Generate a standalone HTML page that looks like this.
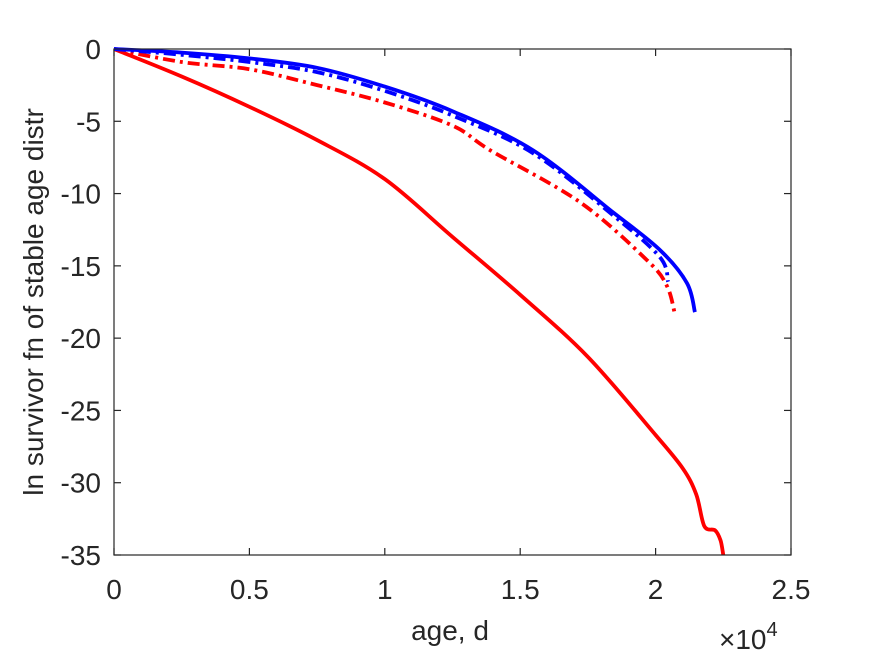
<!DOCTYPE html>
<html><head><meta charset="utf-8"><style>
body{margin:0;background:#fff;}
svg{display:block;font-family:"Liberation Sans",Arial,sans-serif;}
</style></head><body>
<svg id="chart" width="875" height="656" viewBox="0 0 875 656">
<rect width="875" height="656" fill="#fff"/>
<g id="ticks"></g>
<g id="series"></g>
<rect x="114" y="49" width="677" height="506" fill="none" stroke="#262626" stroke-width="1.2"/>
<text x="450" y="640" font-size="28" fill="#262626" text-anchor="middle">age, d</text>
<text transform="translate(43,302) rotate(-90)" font-size="28" fill="#262626" text-anchor="middle">ln survivor fn of stable age distr</text>
<text x="719" y="649" font-size="28" fill="#262626">×10<tspan dy="-13" font-size="20">4</tspan></text>
</svg>
<script>
const xTicks=[0,0.5,1,1.5,2,2.5];
const xTickLabels=["0","0.5","1","1.5","2","2.5"];
const yTicks=[0,-5,-10,-15,-20,-25,-30,-35];
const yTickLabels=["0","-5","-10","-15","-20","-25","-30","-35"];
const redSolidX=[0,0.25,0.5,0.75,1,1.25,1.5,1.75,2,2.1,2.15,2.18,2.22,2.24,2.25];
const redSolidY=[0,-1.9,-4.0,-6.3,-9.0,-13.0,-17.0,-21.3,-26.7,-29.0,-30.8,-33,-33.3,-34,-35];
const blueSolidX=[0,0.25,0.5,0.75,1,1.25,1.547,1.843,2.016,2.116,2.145];
const blueSolidY=[0,-0.25,-0.65,-1.3,-2.6,-4.3,-7.0,-11.3,-13.9,-16.2,-18.2];
const blueDashX=[0,0.25,0.5,0.75,1,1.25,1.547,1.843,2.016,2.046];
const blueDashY=[0,-0.4,-0.9,-1.6,-2.9,-4.6,-7.2,-11.5,-14.4,-16.1];
const redDashX=[0,0.25,0.5,0.75,1,1.25,1.389,1.721,1.968,2.042,2.072];
const redDashY=[0,-0.9,-1.4,-2.5,-3.7,-5.3,-7.0,-10.6,-14.6,-16.4,-18.4];
const X0=114,X1=791,Y0=49,Y1=555;
const sx=v=>X0+(v-0)/(2.5)*(X1-X0);
const sy=v=>Y0+(0-v)/35*(Y1-Y0);
const NS="http://www.w3.org/2000/svg";
const tg=document.getElementById('ticks');
function mk(tag,attrs,parent){const e=document.createElementNS(NS,tag);for(const k in attrs)e.setAttribute(k,attrs[k]);parent.appendChild(e);return e;}
xTicks.forEach((t,i)=>{
 const x=sx(t);
 const a=mk('line',{x1:x,x2:x,y1:Y1,y2:Y1-7,stroke:'#262626','stroke-width':1.2},tg);
 
 
 const b=mk('line',{x1:x,x2:x,y1:Y0,y2:Y0+7,stroke:'#262626','stroke-width':1.2},tg);
 
 
 const l=mk('text',{x:x,y:599,'font-size':28,fill:'#262626','text-anchor':'middle'},tg);
 l.textContent=xTickLabels[i];
 
 
});
yTicks.forEach((t,i)=>{
 const y=sy(t);
 const a=mk('line',{x1:X0,x2:X0+7,y1:y,y2:y,stroke:'#262626','stroke-width':1.2},tg);
 
 
 const b=mk('line',{x1:X1,x2:X1-7,y1:y,y2:y,stroke:'#262626','stroke-width':1.2},tg);
 
 
 const l=mk('text',{x:101,y:y+10,'font-size':28,fill:'#262626','text-anchor':'end'},tg);
 l.textContent=yTickLabels[i];
 
 
});
const sg=document.getElementById('series');
function smoothPath(pts){
 let d='M'+pts[0][0].toFixed(1)+' '+pts[0][1].toFixed(1);
 for(let i=0;i<pts.length-1;i++){
  const p0=pts[Math.max(0,i-1)],p1=pts[i],p2=pts[i+1],p3=pts[Math.min(pts.length-1,i+2)];
  const c1=[p1[0]+(p2[0]-p0[0])/6,p1[1]+(p2[1]-p0[1])/6];
  const c2=[p2[0]-(p3[0]-p1[0])/6,p2[1]-(p3[1]-p1[1])/6];
  d+=' C'+c1[0].toFixed(1)+' '+c1[1].toFixed(1)+' '+c2[0].toFixed(1)+' '+c2[1].toFixed(1)+' '+p2[0].toFixed(1)+' '+p2[1].toFixed(1);
 }
 return d;
}
function line(xs,ys,color,dash,name){
 const pts=xs.map((v,i)=>[sx(v),sy(ys[i])]);
 const p=mk('path',{d:smoothPath(pts),fill:'none',stroke:color,'stroke-width':3.8,'stroke-linejoin':'round'},sg);
 if(dash)p.setAttribute('stroke-dasharray',dash);
 
 
}
line(redSolidX,redSolidY,'#ff0000',null,'red-solid-line');
line(redDashX,redDashY,'#ff0000','12 5 3 5','red-dashdot-line');
line(blueDashX,blueDashY,'#0000ff','12 5 3 5','blue-dashdot-line');
line(blueSolidX,blueSolidY,'#0000ff',null,'blue-solid-line');
</script>
</body></html>
